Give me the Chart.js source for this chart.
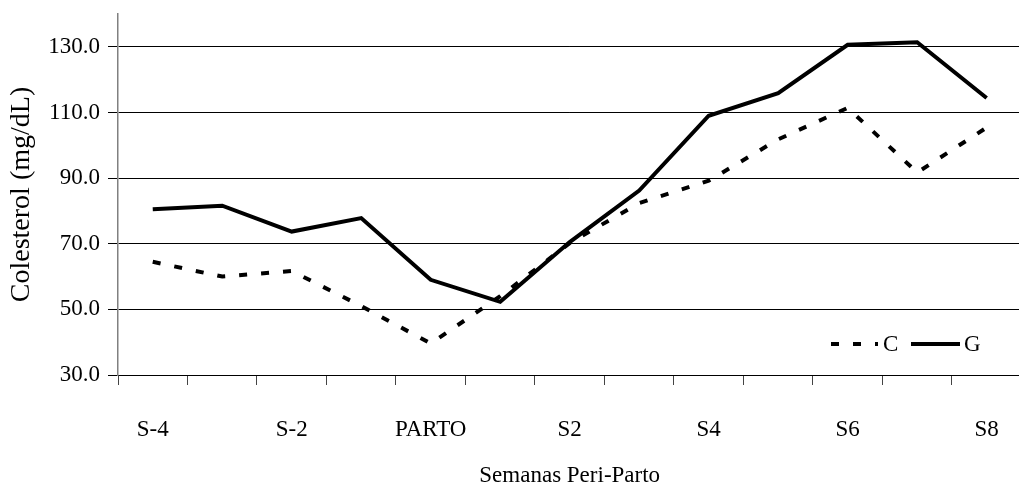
<!DOCTYPE html>
<html>
<head>
<meta charset="utf-8">
<script src="https://cdn.jsdelivr.net/npm/chart.js@4"></script>
<style>
  html, body { margin: 0; padding: 0; background: #fff; overflow: hidden; }
  #wrap { width: 1030px; height: 488px; position: relative; }
</style>
</head>
<body>
<div id="wrap"><canvas id="colesterol_chart"></canvas></div>
<script>
const semanas = ['S-4', 'S-3', 'S-2', 'S-1', 'PARTO', 'S1', 'S2', 'S3', 'S4', 'S5', 'S6', 'S7', 'S8'];
const serie_c = [64.5, 60.0, 61.7, 51.0, 39.6, 54.0, 70.2, 82.4, 89.2, 101.8, 111.4, 91.7, 105.4];
const serie_g = [80.5, 81.6, 73.7, 77.8, 59.0, 52.3, 70.5, 86.2, 109.0, 115.9, 130.6, 131.4, 114.4];
const y_ticks = [30, 50, 70, 90, 110, 130];

const serif = '"Liberation Serif", "Times New Roman", serif';

// legend drawn inside the plot, bottom right
const leyenda = {
    id: 'leyenda',
    afterDatasetsDraw(chart) {
        const ctx = chart.ctx;
        const y = 344;
        const items = [
            { ds: chart.data.datasets[0], x1: 831, x2: 878, tx: 883 },
            { ds: chart.data.datasets[1], x1: 911, x2: 960, tx: 964 }
        ];
        ctx.save();
        items.forEach(function (it) {
            ctx.beginPath();
            ctx.strokeStyle = '#000';
            ctx.lineWidth = it.ds.borderWidth;
            ctx.setLineDash(it.ds.borderDash || []);
            ctx.moveTo(it.x1, y);
            ctx.lineTo(it.x2, y);
            ctx.stroke();
            ctx.setLineDash([]);
            ctx.fillStyle = '#000';
            ctx.font = '23px ' + serif;
            ctx.textBaseline = 'middle';
            ctx.fillText(it.ds.label, it.tx, y + 1);
        });
        ctx.restore();
    }
};

new Chart(document.getElementById('colesterol_chart'), {
    type: 'line',
    data: {
        labels: semanas,
        datasets: [{
            label: 'C',
            data: serie_c,
            borderColor: '#000',
            borderWidth: 4,
            borderDash: [8, 14],
            pointRadius: 0,
            tension: 0,
            fill: false
        }, {
            label: 'G',
            data: serie_g,
            borderColor: '#000',
            borderWidth: 4,
            pointRadius: 0,
            tension: 0,
            fill: false
        }]
    },
    options: {
        responsive: true,
        maintainAspectRatio: false,
        animation: false,
        layout: { padding: { top: 14, right: 5, left: 0, bottom: 0 } },
        plugins: {
            legend: { display: false },
            tooltip: { enabled: false }
        },
        scales: {
            x: {
                offset: true,
                afterFit(scale) { scale.height = 113; },
                grid: {
                    offset: true,
                    drawOnChartArea: false,
                    drawTicks: true,
                    tickLength: 10,
                    color: '#444'
                },
                border: { color: '#000', width: 1 },
                ticks: {
                    autoSkip: false,
                    maxRotation: 0,
                    padding: 31,
                    color: '#000',
                    font: { family: serif, size: 23 },
                    callback: function (v, i) { return i % 2 === 0 ? semanas[i] : ''; }
                },
                title: {
                    display: true,
                    text: 'Semanas Peri-Parto',
                    color: '#000',
                    font: { family: serif, size: 23, lineHeight: 1.0 },
                    padding: { top: 0, bottom: 1 }
                }
            },
            y: {
                min: 30,
                max: 140,
                afterFit(scale) {
                    scale.width = 118;
                    scale.paddingTop = 0;
                    scale.paddingBottom = 0;
                },
                afterBuildTicks(axis) {
                    axis.ticks = y_ticks.map(function (v) { return { value: v }; });
                },
                grid: {
                    color: '#000',
                    lineWidth: 1,
                    tickLength: 10
                },
                border: { color: '#808080', width: 1.5 },
                ticks: {
                    padding: 8,
                    color: '#000',
                    font: { family: serif, size: 23 },
                    callback: function (v) { return Number(v).toFixed(1); }
                },
                title: {
                    display: true,
                    text: 'Colesterol (mg/dL)',
                    color: '#000',
                    font: { family: serif, size: 28 },
                    padding: { top: 5, bottom: 0 }
                }
            }
        }
    },
    plugins: [leyenda]
});
</script>
</body>
</html>
